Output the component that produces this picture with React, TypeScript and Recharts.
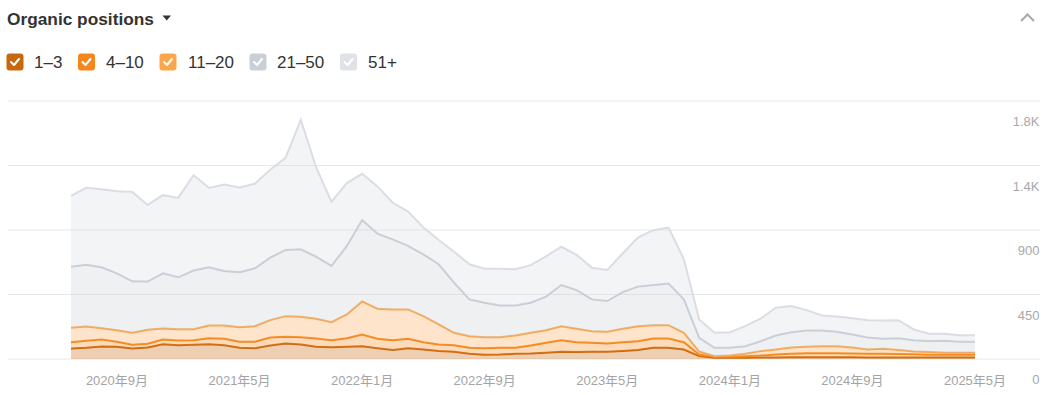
import React from 'react';
import { AreaChart, Area, XAxis, YAxis, CartesianGrid } from 'recharts';

const MONTHS = [
  '2020年6月', '2020年7月', '2020年8月', '2020年9月', '2020年10月', '2020年11月', '2020年12月',
  '2021年1月', '2021年2月', '2021年3月', '2021年4月', '2021年5月', '2021年6月', '2021年7月', '2021年8月', '2021年9月', '2021年10月', '2021年11月', '2021年12月',
  '2022年1月', '2022年2月', '2022年3月', '2022年4月', '2022年5月', '2022年6月', '2022年7月', '2022年8月', '2022年9月', '2022年10月', '2022年11月', '2022年12月',
  '2023年1月', '2023年2月', '2023年3月', '2023年4月', '2023年5月', '2023年6月', '2023年7月', '2023年8月', '2023年9月', '2023年10月', '2023年11月', '2023年12月',
  '2024年1月', '2024年2月', '2024年3月', '2024年4月', '2024年5月', '2024年6月', '2024年7月', '2024年8月', '2024年9月', '2024年10月', '2024年11月', '2024年12月',
  '2025年1月', '2025年2月', '2025年3月', '2025年4月', '2025年5月',
];

const POS_1_3 = [
  73, 78, 87, 85, 73, 80, 103, 96, 99, 103,
  96, 78, 75, 94, 108, 101, 85, 82, 85, 89,
  75, 62, 75, 66, 55, 50, 36, 29, 31, 36,
  38, 43, 50, 48, 50, 50, 55, 62, 78, 78,
  66, 20, 8, 8, 9, 10, 11, 12, 12, 12,
  12, 12, 11, 11, 11, 10, 10, 10, 10, 10,
];

const POS_4_10 = [
  44, 49, 49, 35, 26, 26, 33, 33, 32, 42,
  45, 42, 45, 56, 47, 51, 58, 49, 60, 82,
  66, 69, 66, 51, 46, 46, 42, 46, 47, 42,
  56, 70, 81, 69, 63, 58, 62, 62, 65, 65,
  51, 11, 7, 7, 11, 14, 20, 24, 28, 28,
  28, 26, 25, 25, 24, 23, 20, 20, 19, 19,
];

const POS_11_20 = [
  101, 100, 79, 81, 84, 98, 77, 79, 77, 89,
  93, 102, 109, 121, 144, 143, 138, 126, 166, 231,
  210, 215, 205, 182, 140, 87, 81, 77, 74, 86,
  89, 88, 98, 94, 81, 82, 94, 105, 93, 93,
  66, 21, 5, 9, 16, 31, 35, 44, 45, 49,
  49, 42, 30, 35, 27, 19, 18, 13, 14, 14,
];

const POS_21_50 = [
  426, 431, 425, 397, 359, 336, 385, 362, 409, 406,
  380, 383, 404, 436, 462, 470, 433, 392, 478, 568,
  524, 489, 443, 431, 420, 350, 257, 241, 222, 210,
  210, 234, 287, 270, 222, 214, 256, 276, 280, 290,
  233, 96, 58, 54, 53, 69, 98, 107, 114, 110,
  101, 91, 84, 70, 83, 79, 77, 85, 78, 78,
];

const POS_51_PLUS = [
  494, 536, 545, 573, 624, 535, 545, 554, 666, 554,
  604, 592, 589, 613, 643, 904, 622, 447, 438, 322,
  329, 255, 239, 187, 169, 215, 245, 237, 256, 252,
  262, 281, 267, 245, 220, 217, 269, 342, 383, 391,
  280, 128, 105, 109, 140, 157, 194, 182, 142, 105,
  107, 114, 121, 127, 126, 75, 52, 48, 45, 45,
];

const SERIES_NAMES = ['1–3', '4–10', '11–20', '21–50', '51+'];
const SERIES_KEYS = ['p1', 'p2', 'p3', 'p4', 'p5'];
const SERIES_COLORS = ['#cc6a10', '#f5881d', '#f9a650', '#c7cdd5', '#dadee4'];
const BOX_COLORS = ['#c8680e', '#f5861c', '#fca64b', '#c9cfd7', '#dfe2e7'];
const FILL_OPACITY = [0.32, 0.3, 0.3, 0.3, 0.32];

const X_TICK_LABELS = ['2020年9月', '2021年5月', '2022年1月', '2022年9月', '2023年5月', '2024年1月', '2024年9月', '2025年5月'];
const Y_TICKS = [0, 450, 900, 1350, 1800];
const Y_TICK_LABELS = ['0', '450', '900', '1.4K', '1.8K'];

const FONT = "Arial, 'Liberation Sans', 'Noto Sans CJK SC', sans-serif";

const data = MONTHS.map((m, i) => ({
  month: m,
  p1: POS_1_3[i],
  p2: POS_4_10[i],
  p3: POS_11_20[i],
  p4: POS_21_50[i],
  p5: POS_51_PLUS[i],
}));

const LEGEND_BOX_X = [6.5, 78, 159.5, 249.5, 340];
const LEGEND_TEXT_X = [34, 106, 188, 277, 368];

const XTick = (props: any) => {
  const { x, y, payload } = props;
  if (!X_TICK_LABELS.includes(payload.value)) return <g />;
  return (
    <text x={x} y={y + 26} textAnchor="middle" fill="#a4a4a4" fontSize={13} fontFamily={FONT}>
      {payload.value}
    </text>
  );
};

const YTick = (props: any) => {
  const { y, payload } = props;
  const idx = Y_TICKS.indexOf(payload.value);
  return (
    <text x={1039.5} y={y + 25} textAnchor="end" fill="#a8a8a8" fontSize={13} fontFamily={FONT}>
      {idx >= 0 ? Y_TICK_LABELS[idx] : String(payload.value)}
    </text>
  );
};

export default function App() {
  return (
    <div style={{ position: 'absolute', left: 0, top: 0, width: 1052, height: 395, background: '#fff', overflow: 'hidden' }}>
      <svg width={1052} height={90} style={{ position: 'absolute', left: 0, top: 0 }}>
        <text x={7} y={25} fontFamily={FONT} fontWeight="bold" fontSize={17.3} fill="#333">
          Organic positions
        </text>
        <polygon points="162.5,15.5 171,15.5 166.75,20.5" fill="#333" />
        <polyline points="1021,21 1027.5,14.5 1034,21" fill="none" stroke="#a9a9a9" strokeWidth={2} />
        {SERIES_NAMES.map((name, i) => (
          <g key={name}>
            <rect x={LEGEND_BOX_X[i]} y={53.5} width={17} height={17} rx={3} fill={BOX_COLORS[i]} />
            <polyline
              points={`${LEGEND_BOX_X[i] + 4.5},${62} ${LEGEND_BOX_X[i] + 7.5},${65} ${LEGEND_BOX_X[i] + 12.5},${59}`}
              fill="none"
              stroke="#fff"
              strokeWidth={2}
              strokeLinecap="round"
              strokeLinejoin="round"
            />
            <text x={LEGEND_TEXT_X[i]} y={68} fontFamily={FONT} fontSize={17} fill="#333">
              {name}
            </text>
          </g>
        ))}
      </svg>
      <div style={{ position: 'absolute', left: 0, top: 0 }}>
        <AreaChart width={1052} height={395} data={data} margin={{ top: 101, right: 2, bottom: 0, left: 8 }}>
          <CartesianGrid vertical={false} stroke="#e8e8e8" />
          <XAxis
            dataKey="month"
            interval={0}
            axisLine={false}
            tickLine={false}
            tickSize={0}
            tickMargin={0}
            height={36}
            padding={{ left: 63, right: 65 }}
            tick={XTick}
          />
          <YAxis
            orientation="right"
            width={10}
            domain={[0, 1800]}
            ticks={Y_TICKS}
            interval={0}
            axisLine={false}
            tickLine={false}
            tickSize={0}
            tickMargin={0}
            tick={YTick}
          />
          {SERIES_KEYS.map((k, i) => (
            <Area
              key={k}
              type="linear"
              dataKey={k}
              name={SERIES_NAMES[i]}
              stackId="pos"
              stroke={SERIES_COLORS[i]}
              strokeWidth={2}
              fill={SERIES_COLORS[i]}
              fillOpacity={FILL_OPACITY[i]}
              dot={false}
              activeDot={false}
              isAnimationActive={false}
            />
          ))}
        </AreaChart>
      </div>
    </div>
  );
}
